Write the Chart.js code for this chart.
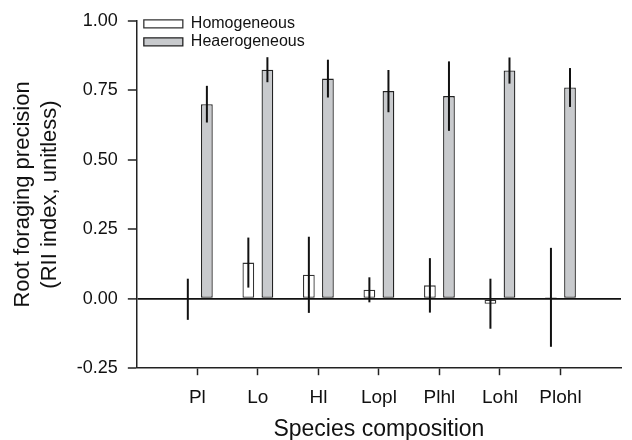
<!DOCTYPE html>
<html>
<head>
<meta charset="utf-8">
<script src="https://cdn.jsdelivr.net/npm/chart.js@4.4.1/dist/chart.umd.min.js"></script>
<style>
  html, body { margin: 0; padding: 0; background: #fff; }
  #wrap { width: 632px; height: 440px; position: relative; }
</style>
</head>
<body>
<div id="wrap"><canvas id="chart"></canvas></div>
<script>
const categories = ["Pl", "Lo", "Hl", "Lopl", "Plhl", "Lohl", "Plohl"];
const homoMeans = [-0.002, 0.13, 0.086, 0.032, 0.048, -0.018, 0.005];
const homoErrors = [0.074, 0.09, 0.137, 0.045, 0.098, 0.09, 0.178];
const heteroMeans = [0.70, 0.824, 0.792, 0.747, 0.729, 0.821, 0.760];
const heteroErrors = [0.066, 0.045, 0.068, 0.076, 0.125, 0.047, 0.07];
const yTicks = [-0.25, 0, 0.25, 0.5, 0.75, 1.0];

const FONT = '"Liberation Sans", Arial, Helvetica, sans-serif';
const INK = "#111";

// empty slot on each side so the categories sit on 1..7 of a 0..8 axis
const pad = (arr) => [null, ...arr, null];
const labels = ["", ...categories, ""];

const errorBars = {
  id: "errorBars",
  afterDatasetsDraw(chart) {
    const ctx = chart.ctx;
    const y = chart.scales.y;
    ctx.save();
    ctx.strokeStyle = INK;
    ctx.lineWidth = 2;
    chart.data.datasets.forEach((ds, i) => {
      const meta = chart.getDatasetMeta(i);
      meta.data.forEach((bar, j) => {
        const v = ds.data[j], e = ds.errors[j];
        if (v == null || e == null) return;
        ctx.beginPath();
        ctx.moveTo(bar.x, y.getPixelForValue(v + e));
        ctx.lineTo(bar.x, y.getPixelForValue(v - e));
        ctx.stroke();
      });
    });
    ctx.restore();
  },
};

// nudge the legend up over the top edge of the plot, as in the figure
const legendNudge = {
  id: "legendNudge",
  afterLayout(chart) {
    if (!chart.legend) return;
    chart.legend.top = chart.chartArea.top - 7;
    chart.legend.left = chart.chartArea.left + 5;
  },
};

new Chart(document.getElementById("chart"), {
  type: "bar",
  data: {
    labels,
    datasets: [
      {
        label: "Homogeneous",
        data: pad(homoMeans),
        errors: pad(homoErrors),
        backgroundColor: "#ffffff",
        borderColor: "#333",
        borderWidth: 1.3,
        borderSkipped: false,
        categoryPercentage: 0.63,
        barPercentage: 0.615,
      },
      {
        label: "Heaerogeneous",
        data: pad(heteroMeans),
        errors: pad(heteroErrors),
        backgroundColor: "#c8cacd",
        borderColor: "#222",
        borderWidth: 1.3,
        borderSkipped: false,
        categoryPercentage: 0.63,
        barPercentage: 0.615,
      },
    ],
  },
  options: {
    responsive: true,
    maintainAspectRatio: false,
    animation: false,
    layout: { padding: { left: 8, top: 20, right: 0, bottom: 0 } },
    plugins: {
      tooltip: { enabled: false },
      legend: {
        position: "chartArea",
        align: "start",
        labels: {
          boxWidth: 39,
          boxHeight: 8,
          padding: 2,
          color: INK,
          font: { family: FONT, size: 16 },
        },
      },
    },
    scales: {
      x: {
        offset: false,
        grid: {
          offset: false,
          drawOnChartArea: false,
          tickLength: 7,
          tickWidth: 1.5,
          tickColor: (c) => (c.index === 0 || c.index === labels.length - 1 ? "rgba(0,0,0,0)" : "#222"),
        },
        border: { display: true, color: "#222", width: 1.5 },
        ticks: {
          color: INK,
          padding: 11,
          maxRotation: 0,
          autoSkip: false,
          font: { family: FONT, size: 19, lineHeight: 1.2 },
        },
        title: {
          display: true,
          text: "Species composition",
          color: INK,
          padding: { top: 0, bottom: 0 },
          font: { family: FONT, size: 23, lineHeight: 0.87 },
        },
      },
      y: {
        min: yTicks[0],
        max: yTicks[yTicks.length - 1],
        afterBuildTicks: (scale) => { scale.ticks = yTicks.map((v) => ({ value: v })); },
        grid: {
          drawOnChartArea: true,
          color: (c) => (c.tick && Math.abs(c.tick.value) < 1e-9 ? "#111" : "rgba(0,0,0,0)"),
          lineWidth: (c) => (c.tick && Math.abs(c.tick.value) < 1e-9 ? 1.8 : 0),
          tickLength: 9,
          tickWidth: 1.5,
          tickColor: "#222",
        },
        border: { display: true, color: "#222", width: 1.5 },
        ticks: {
          color: INK,
          padding: 10,
          font: { family: FONT, size: 18 },
          callback: (v) => Number(v).toFixed(2),
        },
        title: {
          display: true,
          text: ["Root foraging precision", "(RII index, unitless)"],
          color: INK,
          padding: { top: 2, bottom: 4 },
          font: { family: FONT, size: 22, lineHeight: 1.2 },
        },
      },
    },
  },
  plugins: [errorBars, legendNudge],
});
</script>
</body>
</html>
